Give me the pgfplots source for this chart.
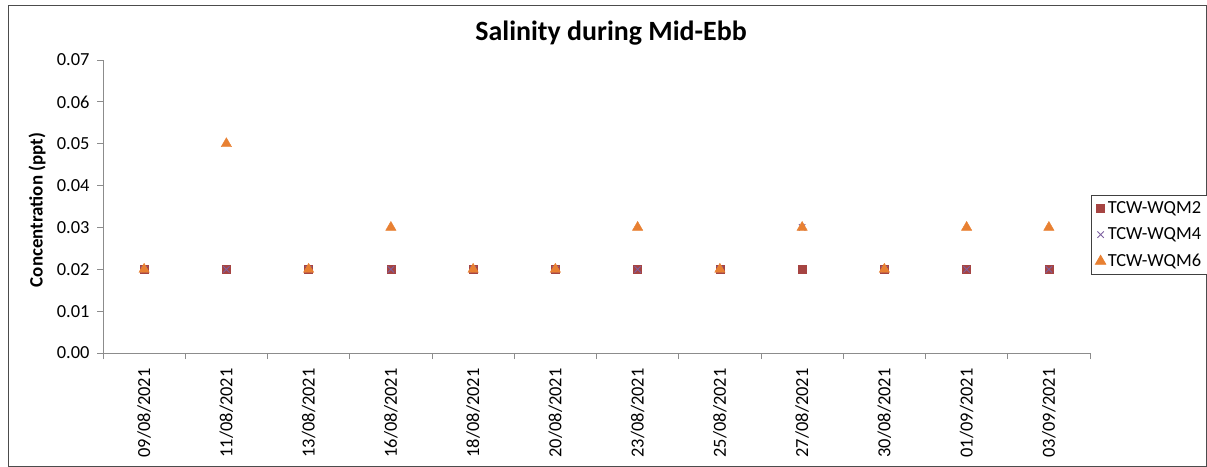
\documentclass[border=0pt]{standalone}
\usepackage{pgfplots}
\pgfplotsset{compat=1.18}
\usepackage{fontspec}
\setmainfont{Carlito}
\definecolor{c2}{RGB}{166,68,66}
\definecolor{c4}{RGB}{125,96,160}
\definecolor{c6}{RGB}{232,128,50}
\definecolor{axg}{RGB}{140,140,140}
\begin{document}
\begin{tikzpicture}
\useasboundingbox (0bp,0bp) rectangle (1207bp,467bp);
\draw[black!70, line width=0.8bp] (8.5bp,0.5bp) rectangle (1206.5bp,461.5bp);
\begin{axis}[
  at={(103bp,114bp)}, anchor=south west,
  scale only axis, width=987bp, height=293bp,
  xmin=-0.5, xmax=11.5, ymin=0, ymax=0.07,
  axis lines*=left,
  axis line style={-, draw=axg, line width=0.8bp},
  xtick={0,...,11},
  xticklabels={09/08/2021,11/08/2021,13/08/2021,16/08/2021,18/08/2021,20/08/2021,23/08/2021,25/08/2021,27/08/2021,30/08/2021,01/09/2021,03/09/2021},
  major x tick style={draw=none},
  minor xtick={-0.5,0.5,...,11.5},
  minor tick length=6bp,
  major tick length=6bp,
  tick align=outside,
  tick style={draw=axg, line width=0.8bp},
  ytick={0,0.01,0.02,0.03,0.04,0.05,0.06,0.07},
  scaled y ticks=false,
  yticklabel style={font=\fontsize{18.5}{20}\selectfont, xshift=-4bp,
    /pgf/number format/fixed, /pgf/number format/fixed zerofill,
    /pgf/number format/precision=2, /pgf/number format/assume math mode=true},
  xticklabel style={font=\fontsize{18.5}{20}\selectfont, rotate=90, anchor=east, xshift=-6bp},
  legend style={at={(1.001,0.539)}, anchor=north west, draw=black!75, line width=0.8bp,
    font=\fontsize{18.5}{20}\selectfont, row sep=9bp, inner sep=4bp,
    legend cell align=left},
  legend image code/.code={\draw[#1] plot coordinates {(0.3cm,0cm)};},
  clip=false,
]
\addplot[only marks, mark=square*, mark size=4bp, color=c2, mark options={fill=c2, draw=c2}]
  coordinates {(0,0.02)(1,0.02)(2,0.02)(3,0.02)(4,0.02)(5,0.02)(6,0.02)(7,0.02)(8,0.02)(9,0.02)(10,0.02)(11,0.02)};
\addlegendentry{TCW-WQM2}
\addplot[only marks, mark=x, mark size=4.5bp, color=c4, mark options={line width=0.9bp}]
  coordinates {(0,0.02)(1,0.02)(2,0.02)(3,0.02)(4,0.02)(5,0.02)(6,0.02)(7,0.02)(8,0.03)(9,0.02)(10,0.02)(11,0.02)};
\addlegendentry{TCW-WQM4}
\addplot[only marks, mark=triangle*, mark size=6bp, color=c6, mark options={fill=c6, draw=c6}]
  coordinates {(0,0.02)(1,0.05)(2,0.02)(3,0.03)(4,0.02)(5,0.02)(6,0.03)(7,0.02)(8,0.03)(9,0.02)(10,0.03)(11,0.03)};
\addlegendentry{TCW-WQM6}
\end{axis}
\node[font=\fontsize{28}{30}\selectfont\bfseries] at (611bp,434bp) {Salinity during Mid-Ebb};
\node[rotate=90, font=\fontsize{19}{21}\selectfont\bfseries] at (37bp,257bp) {Concentration (ppt)};
\end{tikzpicture}
\end{document}
